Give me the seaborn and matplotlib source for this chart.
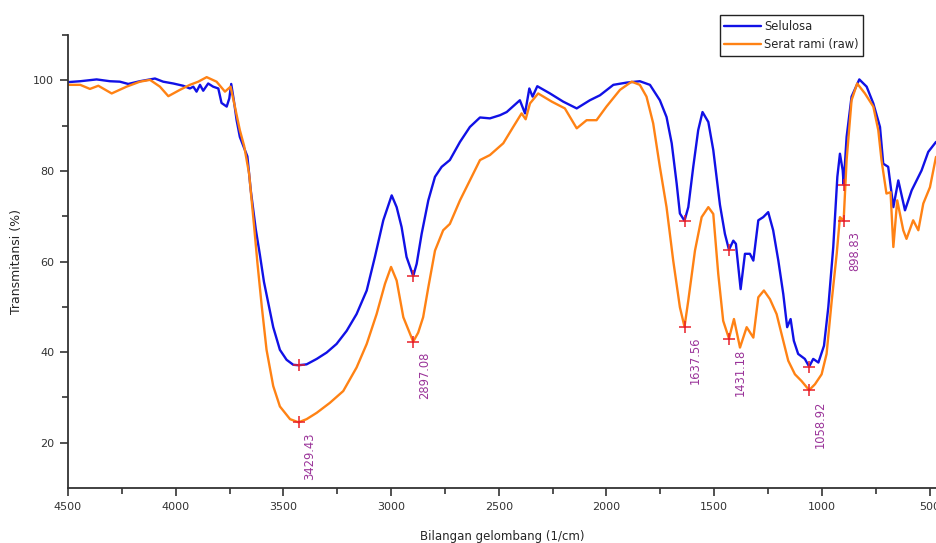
import matplotlib
matplotlib.use("Agg")
import matplotlib.pyplot as plt
from matplotlib.ticker import FixedLocator
import seaborn as sns
import pandas as pd

# Spektrum FTIR (bilangan gelombang, transmitansi %)
selulosa_wn = [4500, 4443, 4367, 4305, 4259, 4220, 4166, 4096, 4058, 4011,
               3965, 3934, 3918, 3903, 3887, 3872, 3849, 3826, 3802, 3787,
               3763, 3751, 3742, 3730, 3717, 3702, 3667, 3651, 3628, 3609,
               3590, 3573, 3547, 3516, 3485, 3454, 3429.43, 3392, 3345, 3299,
               3253, 3206, 3160, 3113, 3075, 3036, 2997, 2974, 2951, 2928,
               2897.08, 2881, 2858, 2827, 2796, 2765, 2727, 2680, 2634, 2587,
               2541, 2494, 2463, 2402, 2378, 2358, 2343, 2321, 2262, 2201,
               2138, 2077, 2030, 1968, 1906, 1845, 1798, 1752, 1721, 1697,
               1674, 1659, 1637.56, 1620, 1597, 1574, 1554, 1527, 1504, 1473,
               1450, 1431.18, 1411, 1399, 1377, 1357, 1334, 1318, 1295, 1272,
               1249, 1226, 1202, 1179, 1161, 1145, 1130, 1110, 1079, 1058.92,
               1040, 1016, 990, 970, 947, 928, 916, 903, 898.83, 885,
               862, 826, 792, 761, 730, 715, 692, 668, 645, 614,
               583, 560, 537, 506, 470]
selulosa_t = [99.6, 99.8, 100.2, 99.8, 99.7, 99.2, 99.8, 100.4, 99.7, 99.3,
              98.8, 98.2, 98.6, 97.5, 99.0, 97.7, 99.3, 98.6, 98.2, 95.0,
              94.2, 96.0, 99.2, 95.6, 91.2, 87.5, 83.2, 75.6, 67.1, 61.5,
              55.5, 51.5, 45.5, 40.5, 38.3, 37.2, 37.1, 37.3, 38.5, 39.9,
              41.8, 44.7, 48.4, 53.6, 61.0, 69.1, 74.6, 72.0, 67.6, 61.0,
              56.8, 59.5, 66.1, 73.5, 78.7, 80.9, 82.4, 86.4, 89.7, 91.8,
              91.6, 92.3, 93.0, 95.6, 92.7, 98.2, 96.4, 98.7, 97.1, 95.3,
              93.8, 95.6, 96.7, 99.0, 99.5, 99.8, 99.0, 95.6, 91.9, 86.1,
              77.2, 70.6, 69.0, 72.0, 80.9, 89.0, 93.0, 90.8, 84.6, 72.5,
              66.1, 62.6, 64.6, 63.9, 53.9, 61.7, 61.7, 60.2, 69.1, 69.8,
              70.9, 66.9, 60.2, 52.8, 45.5, 47.3, 42.5, 39.6, 38.5, 36.8,
              38.5, 37.7, 41.4, 49.9, 63.2, 78.7, 83.8, 80.1, 77.0, 87.5,
              96.4, 100.2, 98.6, 94.9, 89.7, 81.6, 80.9, 72.0, 77.9, 71.3,
              75.7, 77.9, 80.1, 84.2, 86.4]

rami_wn = [4500, 4443, 4398, 4359, 4297, 4228, 4166, 4119, 4073, 4034,
           3980, 3934, 3895, 3856, 3810, 3771, 3745, 3725, 3702, 3682,
           3659, 3636, 3620, 3600, 3578, 3547, 3516, 3469, 3429.43, 3392,
           3345, 3284, 3222, 3160, 3113, 3067, 3028, 3000, 2974, 2943,
           2897.08, 2874, 2851, 2827, 2796, 2758, 2727, 2680, 2634, 2587,
           2541, 2479, 2433, 2394, 2375, 2355, 2317, 2254, 2193, 2138,
           2092, 2046, 2000, 1937, 1883, 1845, 1814, 1783, 1752, 1721,
           1690, 1659, 1637.56, 1620, 1589, 1558, 1527, 1504, 1481, 1458,
           1431.18, 1408, 1380, 1349, 1318, 1295, 1269, 1241, 1210, 1187,
           1156, 1125, 1094, 1058.92, 1032, 1001, 978, 954, 931, 916,
           898.83, 885, 862, 836, 800, 761, 738, 723, 700, 681,
           668, 650, 622, 607, 576, 552, 529, 498, 470]
rami_t = [99.0, 99.0, 98.1, 98.8, 97.1, 98.6, 99.7, 100.1, 98.6, 96.5,
          97.9, 99.0, 99.7, 100.7, 99.7, 97.5, 98.6, 94.2, 89.0, 85.5,
          79.4, 67.9, 59.5, 50.0, 40.5, 32.5, 28.0, 25.2, 24.5, 25.2,
          26.6, 28.8, 31.4, 36.6, 41.8, 48.4, 55.1, 58.8, 55.8, 47.7,
          42.3, 44.3, 47.7, 54.3, 62.4, 66.9, 68.3, 73.5, 77.9, 82.4,
          83.5, 86.1, 89.7, 92.7, 91.4, 94.9, 97.1, 95.3, 93.8, 89.4,
          91.2, 91.2, 94.2, 97.9, 99.7, 99.0, 96.4, 90.5, 80.9, 72.0,
          60.2, 49.9, 45.6, 51.4, 62.4, 69.8, 72.0, 70.5, 57.3, 46.9,
          43.0, 47.3, 41.0, 45.5, 43.2, 52.1, 53.6, 51.7, 48.4, 44.0,
          38.1, 35.1, 33.6, 31.6, 32.9, 35.1, 39.6, 51.4, 61.7, 69.8,
          69.0, 82.4, 95.6, 99.3, 97.1, 94.2, 89.0, 82.4, 75.0, 75.3,
          63.2, 73.5, 66.9, 65.0, 69.1, 66.9, 72.8, 76.4, 83.1]

# Puncak yang ditandai
peak_wn = [3429.43, 2897.08, 1637.56, 1431.18, 1058.92, 898.83]
peak_labels = ["3429.43", "2897.08", "1637.56", "1431.18", "1058.92", "898.83"]
peak_selulosa = [37.1, 56.8, 69.0, 62.6, 36.8, 77.0]
peak_rami = [24.5, 42.3, 45.6, 43.0, 31.6, 69.0]

series_names = ["Selulosa", "Serat rami (raw)"]
palette = {"Selulosa": "#1111e6", "Serat rami (raw)": "#ff8214"}

df = pd.concat([
    pd.DataFrame({"wn": selulosa_wn, "T": selulosa_t, "sampel": series_names[0]}),
    pd.DataFrame({"wn": rami_wn, "T": rami_t, "sampel": series_names[1]}),
])

sns.set_style("ticks")
plt.rcParams["font.family"] = ["DejaVu Sans"]

fig = plt.figure(figsize=(9.36, 5.43), dpi=100)
ax = fig.add_axes([0.0726, 0.1013, 0.9274, 0.8342])

sns.lineplot(data=df, x="wn", y="T", hue="sampel", hue_order=series_names,
             palette=palette, estimator=None, linewidth=1.7, ax=ax)

# tanda puncak
ax.plot(peak_wn, peak_selulosa, ls="none", marker="+", ms=9, mew=1.1,
        color="#e8202a", zorder=5)
ax.plot(peak_wn, peak_rami, ls="none", marker="+", ms=9, mew=1.1,
        color="#e8202a", zorder=5)
for wn, t, lab in zip(peak_wn, peak_rami, peak_labels):
    ax.annotate(lab, (wn, t), xytext=(11, -10), textcoords="offset pixels",
                rotation=90, ha="center", va="top", fontsize=8.3,
                color="#9a3399")

ax.set_xlim(4500, 470)
ax.set_ylim(10, 110)
ax.xaxis.set_major_locator(FixedLocator(list(range(4500, 499, -500))))
ax.xaxis.set_minor_locator(FixedLocator(list(range(4250, 499, -500))))
ax.yaxis.set_major_locator(FixedLocator([20, 40, 60, 80, 100]))
ax.yaxis.set_minor_locator(FixedLocator([30, 50, 70, 90, 110]))
ax.tick_params(axis="both", which="major", length=6, width=1.2,
               labelsize=8, colors="#333333", pad=4)
ax.tick_params(axis="both", which="minor", length=4, width=1.2, colors="#333333")
for s in ["left", "bottom"]:
    ax.spines[s].set_linewidth(1.3)
    ax.spines[s].set_color("#333333")
sns.despine(ax=ax)

ax.set_xlabel("Bilangan gelombang (1/cm)", fontsize=8.5, labelpad=13)
ax.set_ylabel("Transmitansi (%)", fontsize=9, labelpad=7)

leg = ax.legend(loc="upper left", bbox_to_anchor=(0.769, 0.972),
                bbox_transform=fig.transFigure, fontsize=8.3, frameon=True,
                fancybox=False, edgecolor="#222222", framealpha=1,
                borderpad=0.4, labelspacing=0.45, handlelength=3.2,
                handletextpad=0.25, borderaxespad=0)
leg.get_frame().set_linewidth(1.0)

fig.savefig("out.png", dpi=100)
plt.close(fig)
